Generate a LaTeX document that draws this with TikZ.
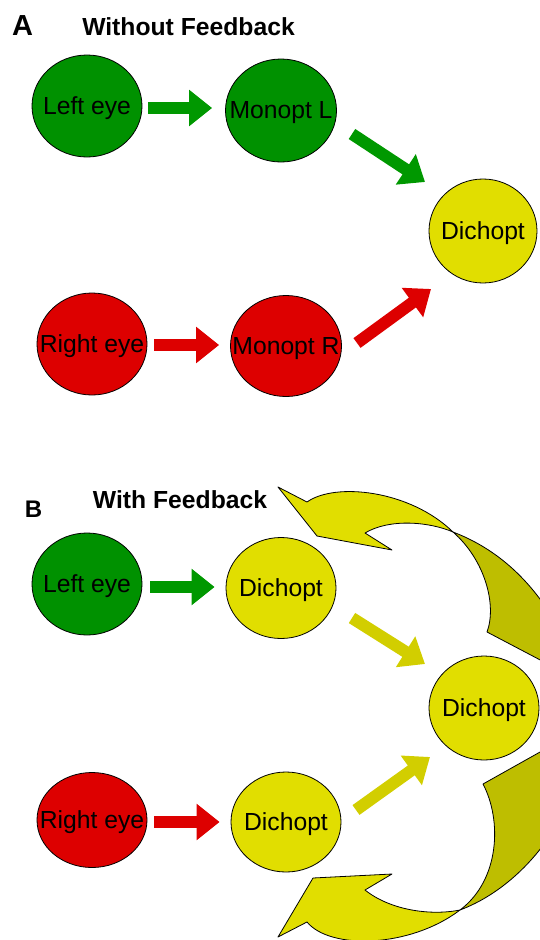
\documentclass[tikz,border=0pt]{standalone}
\usepackage{fontspec}
\setmainfont{Liberation Sans}
\usetikzlibrary{shapes.geometric,arrows.meta}
\definecolor{eyegreen}{RGB}{0,145,0}
\definecolor{arrgreen}{RGB}{0,152,0}
\definecolor{eyered}{RGB}{221,0,0}
\definecolor{dyellow}{RGB}{225,222,0}
\definecolor{ayellow}{RGB}{210,206,0}
\definecolor{shyellow}{RGB}{190,190,0}
\tikzset{
  blob/.style={ellipse, draw=black, line width=0.8pt, minimum width=110pt, minimum height=102pt,
    inner sep=0pt, text height=21pt, text depth=5pt, font=\fontsize{24.7}{29}\selectfont},
  greenblob/.style={blob, fill=eyegreen},
  redblob/.style={blob, fill=eyered},
  yellowblob/.style={blob, fill=dyellow},
  flow/.style={line width=12pt, -{Triangle[length=23pt,width=35pt]}},
  gflow/.style={flow, draw=arrgreen},
  rflow/.style={flow, draw=eyered},
  yflow/.style={flow, draw=ayellow},
  title/.style={font=\bfseries\fontsize{24.7}{29}\selectfont, anchor=base, inner sep=0pt},
  curl/.style={draw=black, line width=0.8pt, line join=round},
}
\begin{document}
\begin{tikzpicture}[x=1pt,y=-1pt]
\useasboundingbox (0,0) rectangle (540,940);
% titles
\node[title, font=\bfseries\fontsize{29}{34}\selectfont] (labA) at (22.5,35) {A};
\node[title] (titA) at (188.5,35) {Without Feedback};
\node[title, font=\bfseries\fontsize{24}{29}\selectfont] (labB) at (33.5,517) {B};
\node[title] (titB) at (180,508) {With Feedback};
% feedback curls
\begin{scope}
\clip (0,0) rectangle (540,940);
\filldraw[curl, fill=shyellow] (453,532) .. controls (495,548) and (535,580) .. (565,640)
  -- (565,673) -- (487,632) .. controls (497,605) and (485,560) .. (453,532) -- cycle;
\filldraw[curl, fill=dyellow] (278,487) -- (307,502) .. controls (335,482) and (410,490) .. (453,532)
  .. controls (430,522) and (390,518) .. (365,533) -- (392,550) -- (317,536) -- cycle;
\filldraw[curl, fill=shyellow] (565,738) -- (483,784) .. controls (502,820) and (500,880) .. (460,910)
  .. controls (500,895) and (540,860) .. (565,810) -- cycle;
\filldraw[curl, fill=dyellow] (460,910) .. controls (430,916) and (390,910) .. (365,890)
  -- (392,874) -- (313,878) -- (278,937) -- (307,922)
  .. controls (330,950) and (410,948) .. (460,910) -- cycle;
\end{scope}
% panel A nodes
\node[greenblob] (leA) at (87,106) {\makebox[0pt]{Left eye}};
\node[greenblob, minimum width=111pt, minimum height=103pt] (mlA) at (281,110.5) {\makebox[0pt]{Monopt L}};
\node[yellowblob, minimum width=108pt, minimum height=104pt] (dA) at (483,231) {\makebox[0pt]{Dichopt}};
\node[redblob] (reA) at (92,344) {\makebox[0pt]{Right eye}};
\node[redblob, minimum width=111pt, minimum height=101pt] (mrA) at (286,346) {\makebox[0pt]{Monopt R}};
% panel B nodes
\node[greenblob] (leB) at (87,584) {\makebox[0pt]{Left eye}};
\node[yellowblob, minimum height=101pt] (dB1) at (281,588) {\makebox[0pt]{Dichopt}};
\node[yellowblob, minimum height=104pt] (dB2) at (484,708) {\makebox[0pt]{Dichopt}};
\node[redblob, minimum height=95pt] (reB) at (92,820) {\makebox[0pt]{Right eye}};
\node[yellowblob, minimum height=100pt] (dB3) at (286,822) {\makebox[0pt]{Dichopt}};
% panel A arrows
\draw[gflow] ([shift={(6,2)}]leA.east) -- ([shift={(-13,-2.5)}]mlA.west);
\draw[gflow] ([shift={(71,23.5)}]mlA.center) -- ([shift={(-58,-49)}]dA.center);
\draw[rflow] ([shift={(7,1)}]reA.east) -- ([shift={(-11,-1)}]mrA.west);
\draw[rflow] ([shift={(71,-3)}]mrA.center) -- ([shift={(-52,58)}]dA.center);
% panel B arrows
\draw[gflow] ([shift={(8,3)}]leB.east) -- ([shift={(-11,-1)}]dB1.west);
\draw[yflow] ([shift={(71,30)}]dB1.center) -- ([shift={(-59,-44)}]dB2.center);
\draw[rflow] ([shift={(7,2)}]reB.east) -- ([shift={(-11,0)}]dB3.west);
\draw[yflow] ([shift={(70,-12)}]dB3.center) -- ([shift={(-54,49)}]dB2.center);
\end{tikzpicture}
\end{document}
